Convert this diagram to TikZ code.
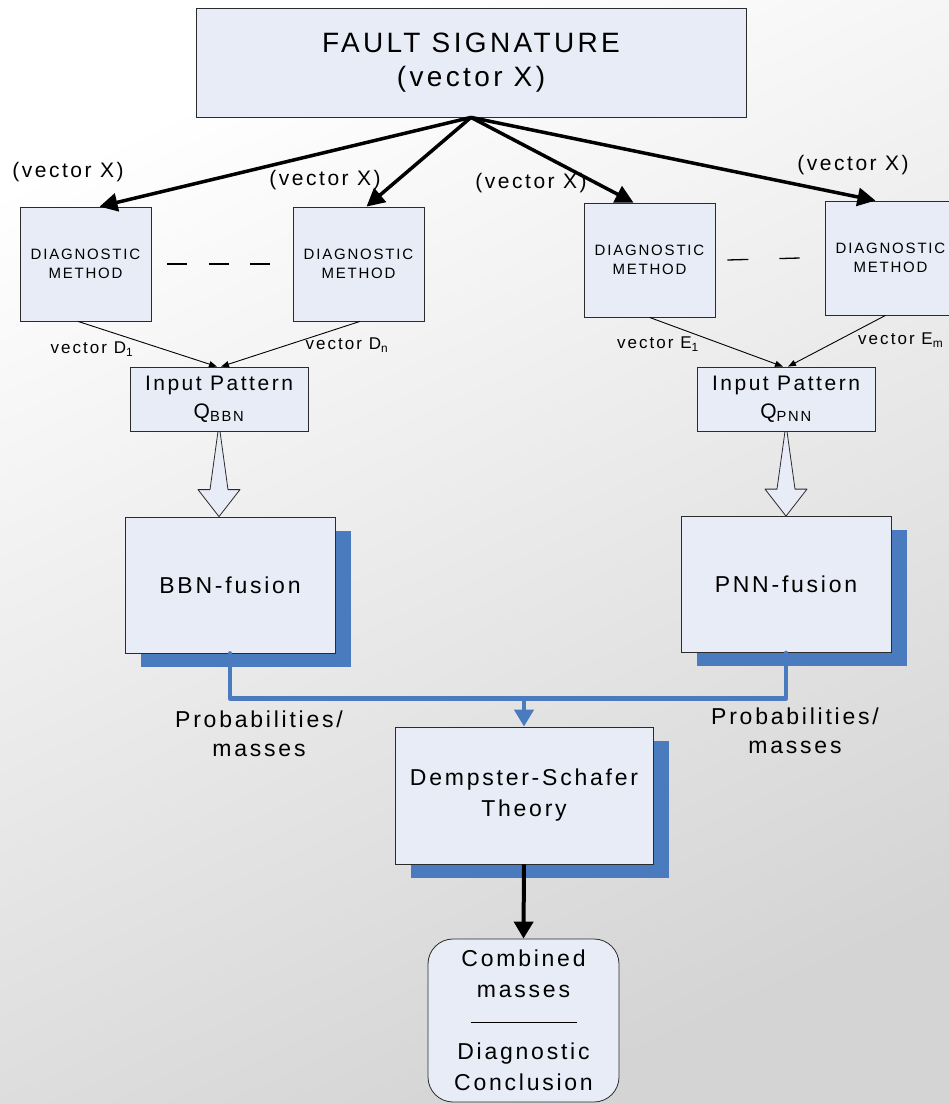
\documentclass[tikz,border=0pt]{standalone}
\usepackage{fontspec}
\setmainfont{Liberation Sans}[LetterSpace=12]
\usetikzlibrary{arrows.meta,calc,shadows}

\definecolor{boxfill}{HTML}{E8ECF7}
\definecolor{boxline}{HTML}{2B2B2B}
\definecolor{shadowblue}{HTML}{4A7BBF}
\definecolor{bgdark}{HTML}{D4D4D4}

\tikzset{
  box/.style={draw=boxline, line width=0.8pt, fill=boxfill, inner sep=0pt, align=center},
  dmbox/.style={box, minimum width=131pt, minimum height=114pt, font=\fontsize{15}{19}\selectfont},
  qbox/.style={box, minimum width=178pt, minimum height=64pt, font=\fontsize{21}{28}\selectfont},
  fusebox/.style={box, minimum width=210pt, minimum height=136pt, font=\fontsize{23}{31}\selectfont},
  bluedrop/.style={general shadow={fill=shadowblue, shadow xshift=16pt, shadow yshift=-13.5pt}},
  feed/.style={line width=3.5pt, -{Triangle[length=18pt,width=18pt]}},
  thinarrow/.style={line width=0.9pt, -{Triangle[length=8pt,width=6pt]}},
  gapdash/.style={line width=1.3pt},
  blueline/.style={draw=shadowblue, line width=4.5pt, line cap=round, line join=round},
  xlabel/.style={inner sep=0pt, font=\fontsize{21}{24}\selectfont},
  vlabel/.style={inner sep=0pt, font=\fontsize{17}{20}\selectfont},
  plabel/.style={inner sep=0pt, align=center, font=\fontsize{23}{29}\selectfont},
  blockarrow/.style={draw=boxline, line width=0.8pt, fill=boxfill, line join=round},
}

\begin{document}
\begin{tikzpicture}[x=1pt,y=1pt]
  \useasboundingbox (0,0) rectangle (949,-1104);
  % soft grey page background
  \shade[top color=white, bottom color=bgdark, shading angle=25] (0,0) rectangle (949,-1104);

  % source of the signature
  \node[box, minimum width=550pt, minimum height=109pt, font=\fontsize{28}{34}\selectfont]
    (fs) at (471,-62.5) {FAULT SIGNATURE\\(vector X)};

  % diagnostic methods
  \node[dmbox] (dm1) at (85.5,-264)  {DIAGNOSTIC\\METHOD};
  \node[dmbox] (dm2) at (358.5,-264) {DIAGNOSTIC\\METHOD};
  \node[dmbox] (dm3) at (649.5,-260) {DIAGNOSTIC\\METHOD};
  \node[dmbox] (dm4) at (890.5,-258) {DIAGNOSTIC\\METHOD};

  % input patterns
  \node[qbox] (qb) at (219,-399) {Input Pattern\\Q\textsubscript{BBN}};
  \node[qbox] (qp) at (786,-399) {Input Pattern\\Q\textsubscript{PNN}};

  % fusion stages
  \node[fusebox, bluedrop] (bbn) at (230,-585)   {BBN-fusion};
  \node[fusebox, bluedrop] (pnn) at (786,-584.5) {PNN-fusion};

  % evidence combination
  \node[box, bluedrop, minimum width=258pt, minimum height=137pt, font=\fontsize{23}{31}\selectfont]
    (ds) at (524,-795.5) {Dempster-Schafer\\Theory};

  \node[box, rounded corners=25pt, minimum width=191pt, minimum height=163pt, font=\fontsize{23}{31}\selectfont]
    (cm) at (523.5,-1020.5) {Combined\\masses\\\rule[5.5pt]{106pt}{1.1pt}\\Diagnostic\\Conclusion};

  % signature fed to every method
  \draw[feed] (fs.south) -- ($(dm1.north)+(14,0)$);
  \draw[feed] (fs.south) -- ($(dm2.north)+(8,0)$);
  \draw[feed] (fs.south) -- ($(dm3.north)+(-16,0)$);
  \draw[feed] (fs.south) -- ($(dm4.north)+(-15,0)$);

  \node[xlabel] (vx1) at (68,-172)  {(vector X)};
  \node[xlabel] (vx2) at (325,-180) {(vector X)};
  \node[xlabel] (vx3) at (531,-183) {(vector X)};
  \node[xlabel] (vx4) at (853,-165) {(vector X)};

  % further methods in between
  \draw[gapdash, dash pattern=on 20pt off 21.5pt] ($(dm1.east)+(16,0)$) -- ($(dm2.west)+(-22,0)$);
  \draw[gapdash, dash pattern=on 21pt off 31pt] ($(dm3.east)+(12,0)$) -- ($(dm4.west)+(-25,0)$);

  % method outputs into the input patterns
  \draw[thinarrow] ($(dm1.south)+(-7.5,0)$) -- ($(qb.north)+(-2,0)$);
  \draw[thinarrow] ($(dm2.south)+(1.5,0)$)  -- ($(qb.north)+(2,0)$);
  \draw[thinarrow] (dm3.south)              -- ($(qp.north)+(-3,0)$);
  \draw[thinarrow] ($(dm4.south)+(-5,0)$)   -- ($(qp.north)+(2,0)$);

  \node[vlabel] (vd1) at (92,-349)  {vector D\textsubscript{1}};
  \node[vlabel] (vdn) at (347,-345) {vector D\textsubscript{n}};
  \node[vlabel] (ve1) at (658,-344) {vector E\textsubscript{1}};
  \node[vlabel, anchor=west] (vem) at (858,-340) {vector E\textsubscript{m}};

  % hollow block arrows into the fusion stages
  \foreach \src/\dst in {qb/bbn, qp/pnn}{
    \coordinate (tip) at (\src.south |- \dst.north);
    \draw[blockarrow] ($(\src.south)+(-1,0)$) -- ($(\src.south)+(1,0)$)
      -- ($(tip)+(9,27)$) -- ($(tip)+(21,27)$) -- (tip)
      -- ($(tip)+(-21,27)$) -- ($(tip)+(-9,27)$) -- cycle;
  }

  % fused probabilities into Dempster-Schafer
  \coordinate (join) at ($(bbn.south)+(0,-45)$);
  \draw[blueline] (bbn.south) -- (join) -| (pnn.south);
  \draw[blueline, -{Triangle[length=17pt,width=19pt]}] (join -| ds.north) -- (ds.north);

  \node[plabel] (pb1) at (259,-733.5) {Probabilities/\\masses};
  \node[plabel] (pb2) at (795,-730.5) {Probabilities/\\masses};

  % combined result
  \draw[line width=4pt, -{Triangle[length=17pt,width=19pt]}] (ds.south) -- (cm.north);
\end{tikzpicture}
\end{document}
